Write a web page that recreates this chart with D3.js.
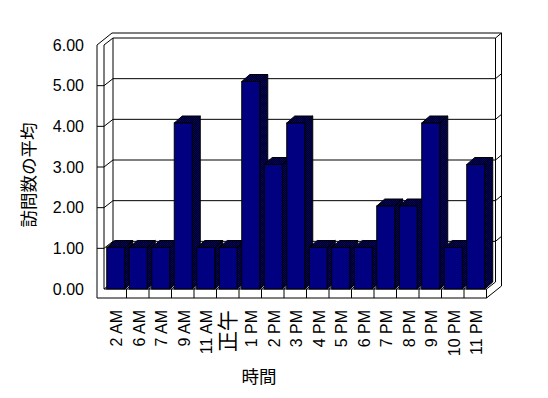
<!DOCTYPE html>
<html>
<head>
<meta charset="utf-8">
<script src="https://cdn.jsdelivr.net/npm/d3@7"></script>
<style>
  html, body { margin: 0; padding: 0; background: #fff; }
  svg { display: block; }
  text { font-family: "Liberation Sans", Arial, "Noto Sans CJK JP", sans-serif; fill: #000; }
</style>
</head>
<body>
<div id="chart"></div>
<script>
const categories = ["2 AM", "6 AM", "7 AM", "9 AM", "11 AM", "正午", "1 PM", "2 PM", "3 PM",
  "4 PM", "5 PM", "6 PM", "7 PM", "8 PM", "9 PM", "10 PM", "11 PM"];
const values = [1, 1, 1, 4, 1, 1, 5, 3, 4, 1, 1, 1, 2, 2, 4, 1, 3];
const yTicks = [0, 1, 2, 3, 4, 5, 6];
const yTitle = "訪問数の平均";
const xTitle = "時間";

const width = 548, height = 398;
// box geometry (front plane, depth offset, wall thickness)
const wallX = 97, floorBottom = 298;
const depth = {x: 9, y: -7};
const thick = {x: 6, y: -5};
const barDepth = {x: 8, y: -7};

const xScale = d3.scaleBand().domain(categories).range([104, 486.5]);
const yFront = d3.scaleLinear().domain([0, 6]).range([289, 45]);
const yBar = d3.scaleLinear().domain([0, 6]).range([289, 40]);

const x0 = xScale.range()[0], x1 = xScale.range()[1];
const yTop = yFront(6), yFloor = yFront(0);

const svg = d3.select("#chart").append("svg")
  .attr("width", width)
  .attr("height", height);

// dither for the shaded bar faces
const pat = svg.append("defs").append("pattern")
  .attr("id", "dither")
  .attr("patternUnits", "userSpaceOnUse")
  .attr("width", 2).attr("height", 2);
pat.append("rect").attr("width", 2).attr("height", 2).attr("fill", "#000");
pat.append("rect").attr("x", 0).attr("y", 0).attr("width", 1).attr("height", 1).attr("fill", "#000080");
pat.append("rect").attr("x", 1).attr("y", 1).attr("width", 1).attr("height", 1).attr("fill", "#000080");

const box = svg.append("g")
  .attr("fill", "none")
  .attr("stroke", "#000")
  .attr("stroke-width", 1);

const line = d3.line();

// outer outline of walls + floor
const ox = depth.x + thick.x, oy = depth.y + thick.y;
box.append("path")
  .attr("fill", "#fff")
  .attr("d", line([
    [wallX, yTop], [wallX + ox, yTop + oy], [x1 + ox, yTop + oy],
    [x1 + ox, floorBottom + oy], [x1, floorBottom], [wallX, floorBottom]
  ]) + "Z");

// inner edges
const segs = [
  [[x0, yTop], [x0, yFloor]],
  [[x0, yTop], [x0 + depth.x, yTop + depth.y]],
  [[x0 + depth.x, yTop + depth.y], [x0 + depth.x, yFloor + depth.y]],
  [[x0 + depth.x, yTop + depth.y], [x1 + depth.x, yTop + depth.y]],
  [[x1 + depth.x, yTop + depth.y], [x1 + depth.x, yFloor + depth.y]],
  [[x1 + depth.x, yTop + depth.y], [x1 + ox, yTop + oy]],
  [[x0, yFloor], [x1, yFloor]],
  [[x1, yFloor], [x1 + depth.x, yFloor + depth.y]],
  [[x1, yFloor], [x1, floorBottom]],
  [[x0, yFloor], [x0 + depth.x, yFloor + depth.y]]
];
box.selectAll("path.edge").data(segs).join("path")
  .attr("class", "edge")
  .attr("d", d => line(d));

// gridlines: left wall, back wall, right face
const gridVals = yTicks.filter(v => v > 0 && v < 6);
gridVals.forEach(v => {
  const yf = yFront(v), yb = yf + depth.y;
  box.append("path").attr("d", line([[wallX, yf], [x0, yf], [x0 + depth.x, yb], [x1 + depth.x, yb], [x1 + ox, yb + thick.y]]));
});

// floor category separators
categories.slice(1).forEach(c => {
  const x = xScale(c);
  box.append("path").attr("d", line([[x, floorBottom], [x, yFloor], [x + depth.x, yFloor + depth.y]]));
});

// bars
const barW = xScale.bandwidth() * 0.8;
const bars = svg.append("g").selectAll("g.bar")
  .data(categories.map((c, i) => ({c, v: values[i]})))
  .join("g")
  .attr("class", "bar")
  .attr("stroke", "#000")
  .attr("stroke-width", 1);

bars.each(function(d) {
  const g = d3.select(this);
  const xa = xScale(d.c) + 2.75, xb = xa + barW;
  const yt = yBar(d.v), yb = yBar(0);
  g.append("path").attr("fill", "url(#dither)")
    .attr("d", line([[xb, yt], [xb + barDepth.x, yt + barDepth.y], [xb + barDepth.x, yb + barDepth.y], [xb, yb]]) + "Z");
  g.append("path").attr("fill", "url(#dither)")
    .attr("d", line([[xa, yt], [xa + barDepth.x, yt + barDepth.y], [xb + barDepth.x, yt + barDepth.y], [xb, yt]]) + "Z");
  g.append("rect").attr("fill", "#000080")
    .attr("x", xa).attr("y", yt).attr("width", barW).attr("height", yb - yt);
});

// value axis labels
const yAxis = svg.append("g")
  .attr("transform", `translate(${wallX},0)`)
  .call(d3.axisLeft(yFront).tickValues(yTicks).tickFormat(d3.format(".2f")).tickSize(0).tickPadding(13));
yAxis.select(".domain").remove();
yAxis.selectAll("text")
  .attr("font-family", "\"Liberation Sans\", Arial, sans-serif")
  .attr("font-size", 16)
  .attr("fill", "#000");

// category labels
svg.append("g").selectAll("text")
  .data(categories)
  .join("text")
  .attr("transform", d => `translate(${xScale(d) + xScale.bandwidth() / 2 + 7},310) rotate(-90)`)
  .attr("text-anchor", "end")
  .attr("font-size", d => /[^\x00-\x7F]/.test(d) ? 21 : 16)
  .text(d => d);

// titles
svg.append("text")
  .attr("transform", "translate(35,175) rotate(-90)")
  .attr("text-anchor", "middle")
  .attr("font-family", "\"Noto Sans CJK JP\", sans-serif")
  .attr("font-size", 17.5)
  .text(yTitle);

svg.append("text")
  .attr("x", 259)
  .attr("y", 383)
  .attr("text-anchor", "middle")
  .attr("font-family", "\"Noto Sans CJK JP\", sans-serif")
  .attr("font-size", 17.5)
  .text(xTitle);
</script>
</body>
</html>
